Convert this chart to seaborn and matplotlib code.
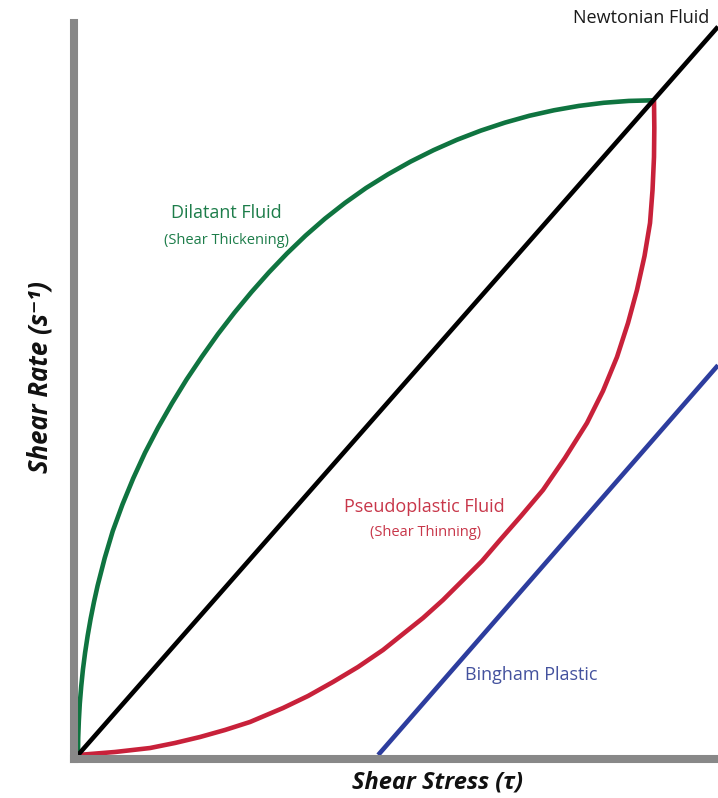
import matplotlib
matplotlib.use("Agg")
import matplotlib.pyplot as plt
import seaborn as sns
import pandas as pd

# ---- data (x = shear stress, y = shear rate) ----
newton_x = [0.0, 10.0]
newton_y = [0.0, 11.38]

dilatant_x = [0.0, 0.003, 0.013, 0.028, 0.050, 0.077, 0.111, 0.151, 0.197, 0.249, 0.307,
              0.417, 0.543, 0.695, 0.863, 1.047, 1.251, 1.469, 1.697, 1.939, 2.186, 2.444,
              2.711, 2.985, 3.265, 3.556, 3.858, 4.174, 4.50, 4.845, 5.197, 5.556, 5.922,
              6.294, 6.671, 7.052, 7.438, 7.825, 8.215, 8.607, 9.0]
dilatant_y = [0.0, 0.268, 0.535, 0.803, 1.069, 1.335, 1.600, 1.864, 2.127, 2.388, 2.648,
              3.076, 3.499, 3.915, 4.323, 4.723, 5.115, 5.497, 5.868, 6.228, 6.576, 6.911,
              7.234, 7.543, 7.836, 8.116, 8.380, 8.628, 8.859, 9.074, 9.272, 9.451, 9.613,
              9.756, 9.881, 9.988, 10.074, 10.142, 10.191, 10.220, 10.23]

pseudo_x = [0.0, 0.578, 1.125, 1.516, 1.906, 2.297, 2.688, 3.203, 3.594, 3.984, 4.375,
            4.766, 5.078, 5.391, 5.703, 6.016, 6.313, 6.594, 6.922, 7.266, 7.609,
            7.953, 8.203, 8.422, 8.594, 8.734, 8.852, 8.938, 8.977, 9.0, 9.005, 9.0]
pseudo_y = [0.0, 0.047, 0.109, 0.188, 0.281, 0.391, 0.516, 0.734, 0.922, 1.141, 1.375,
            1.641, 1.891, 2.141, 2.422, 2.734, 3.031, 3.359, 3.734, 4.141, 4.641,
            5.188, 5.688, 6.219, 6.750, 7.266, 7.797, 8.313, 8.828, 9.344, 9.80, 10.23]

bingham_x = [4.69, 10.0]
bingham_y = [0.0, 6.09]

GREEN = "#0f7440"
RED = "#c8213a"
BLUE = "#2d3d9e"
BLACK = "#000000"
SPINE = "#888888"

W, H = 718, 798
sns.set_theme(style="white")
plt.rcParams["font.family"] = ["Open Sans", "DejaVu Sans"]

fig = plt.figure(figsize=(W / 100, H / 100), dpi=100)
# axes from pixel x 74..718, y 23..759
ax = fig.add_axes([74 / W, 1 - 759 / H, (718 - 74) / W, (759 - 23) / H])
ax.set_xlim(-0.0625, 10.0)
ax.set_ylim(-0.0625, 11.4375)

def draw(xs, ys, color):
    df = pd.DataFrame({"x": xs, "y": ys})
    sns.lineplot(data=df, x="x", y="y", ax=ax, sort=False, estimator=None,
                 color=color, linewidth=3.3, solid_capstyle="butt",
                 solid_joinstyle="round")

draw(bingham_x, bingham_y, BLUE)
draw(pseudo_x, pseudo_y, RED)
draw(dilatant_x, dilatant_y, GREEN)
draw(newton_x, newton_y, BLACK)

ax.set_xticks([])
ax.set_yticks([])
ax.set_xlabel("")
ax.set_ylabel("")
for s in ["top", "right"]:
    ax.spines[s].set_visible(False)
for s in ["left", "bottom"]:
    ax.spines[s].set_color(SPINE)
    ax.spines[s].set_linewidth(5.8)
    ax.spines[s].set_capstyle("projecting")
    ax.spines[s].set_zorder(5)

def ftext(px, py, s, **kw):
    fig.text(px / W, 1 - py / H, s, ha="center", va="center", **kw)

ftext(641, 18, "Newtonian Fluid", color="#1a1a1a", fontsize=13)
ftext(226, 213, "Dilatant Fluid", color="#1d7d4a", fontsize=13)
ftext(226, 240, "(Shear Thickening)", color="#1d7d4a", fontsize=10.5)
ftext(424, 507, "Pseudoplastic Fluid", color="#c8374a", fontsize=13)
ftext(426, 533, "(Shear Thinning)", color="#c8374a", fontsize=10.5)
ftext(531, 675, "Bingham Plastic", color="#44529e", fontsize=13)

ftext(437, 783, "Shear Stress (τ)", color="#111111", fontsize=17,
      fontweight="bold", fontstyle="italic")
ftext(40, 377, "Shear Rate (s⁻¹)", color="#111111", fontsize=18.5,
      fontweight="bold", fontstyle="italic", rotation=90)

fig.savefig("out.png", dpi=100, facecolor="white")
